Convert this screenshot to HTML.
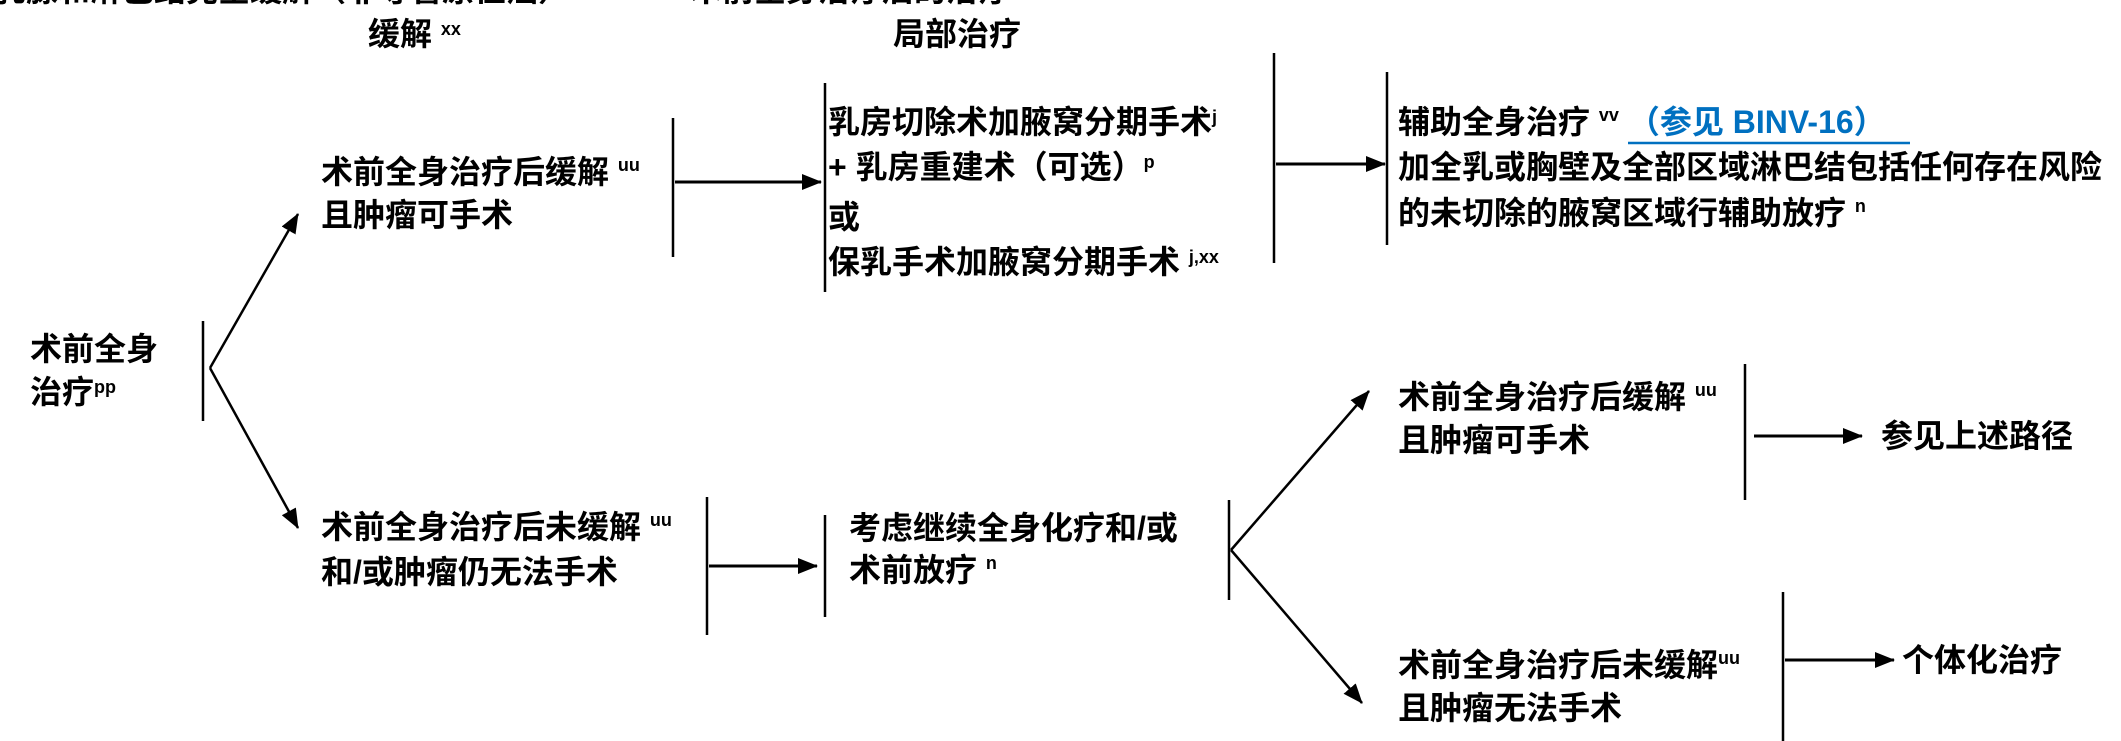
<!DOCTYPE html>
<html><head><meta charset="utf-8"><style>
html,body{margin:0;padding:0;background:#fff;}
svg{display:block;}
text{font-family:"Liberation Sans","Noto Sans CJK SC",sans-serif;font-weight:bold;font-size:32px;fill:#000;}
.s{font-size:18px;}
</style></head><body>
<svg width="2121" height="741" viewBox="0 0 2121 741" xmlns="http://www.w3.org/2000/svg">
<defs>
<marker id="a" markerWidth="20" markerHeight="16" refX="19" refY="8" orient="auto" markerUnits="userSpaceOnUse">
<path d="M0,0 L20,8 L0,16 Z" fill="#000"/></marker>
</defs>
<g stroke="#000" stroke-width="2.5" fill="none">
<line x1="203" y1="321" x2="203" y2="421"/>
<line x1="673" y1="118" x2="673" y2="257"/>
<line x1="825" y1="83" x2="825" y2="292"/>
<line x1="1274" y1="53" x2="1274" y2="263"/>
<line x1="1387" y1="72" x2="1387" y2="245"/>
<line x1="707" y1="497" x2="707" y2="635"/>
<line x1="825" y1="515" x2="825" y2="617"/>
<line x1="1229" y1="500" x2="1229" y2="600"/>
<line x1="1745" y1="364" x2="1745" y2="500"/>
<line x1="1783" y1="592" x2="1783" y2="741"/>
<line x1="210" y1="368" x2="298" y2="214" marker-end="url(#a)"/>
<line x1="210" y1="368" x2="298" y2="528" marker-end="url(#a)"/>
<line x1="675" y1="182" x2="821" y2="182" stroke-width="3" marker-end="url(#a)"/>
<line x1="1276" y1="164" x2="1385" y2="164" stroke-width="3" marker-end="url(#a)"/>
<line x1="709" y1="566" x2="817" y2="566" stroke-width="3" marker-end="url(#a)"/>
<line x1="1231" y1="550" x2="1369" y2="391" marker-end="url(#a)"/>
<line x1="1231" y1="550" x2="1362" y2="703" marker-end="url(#a)"/>
<line x1="1754" y1="436" x2="1862" y2="436" stroke-width="3" marker-end="url(#a)"/>
<line x1="1785" y1="660" x2="1894" y2="660" stroke-width="3" marker-end="url(#a)"/>
</g>
<text x="-6" y="1">乳腺和淋巴结完全缓解（非导管原位癌）</text>
<text x="690" y="1">术前全身治疗后的治疗</text>
<text x="368" y="45">缓解 <tspan class="s" dy="-10">xx</tspan></text>
<text x="893" y="45">局部治疗</text>

<text x="30" y="360">术前全身</text>
<text x="30" y="403">治疗<tspan class="s" dy="-10">pp</tspan></text>

<text x="321" y="183">术前全身治疗后缓解 <tspan class="s" dy="-12">uu</tspan></text>
<text x="321" y="226">且肿瘤可手术</text>

<text x="828" y="133">乳房切除术加腋窝分期手术<tspan class="s" dy="-10">j</tspan></text>
<text x="828" y="178">+ 乳房重建术（可选）<tspan class="s" dy="-10">p</tspan></text>
<text x="828" y="228">或</text>
<text x="828" y="273">保乳手术加腋窝分期手术 <tspan class="s" dy="-10">j,xx</tspan></text>

<text x="1398" y="133">辅助全身治疗 <tspan class="s" dy="-12">vv</tspan><tspan dy="12" style="fill:#0070c0"> （参见 BINV-16）</tspan></text>
<line x1="1628" y1="143" x2="1910" y2="143" stroke="#0070c0" stroke-width="2.5"/>
<text x="1398" y="178">加全乳或胸壁及全部区域淋巴结包括任何存在风险</text>
<text x="1398" y="224">的未切除的腋窝区域行辅助放疗 <tspan class="s" dy="-12">n</tspan></text>

<text x="321" y="538">术前全身治疗后未缓解 <tspan class="s" dy="-12">uu</tspan></text>
<text x="321" y="583">和/或肿瘤仍无法手术</text>

<text x="849" y="539">考虑继续全身化疗和/或</text>
<text x="849" y="581">术前放疗 <tspan class="s" dy="-12">n</tspan></text>

<text x="1398" y="408">术前全身治疗后缓解 <tspan class="s" dy="-12">uu</tspan></text>
<text x="1398" y="451">且肿瘤可手术</text>
<text x="1881" y="447">参见上述路径</text>

<text x="1398" y="676">术前全身治疗后未缓解<tspan class="s" dy="-12">uu</tspan></text>
<text x="1398" y="719">且肿瘤无法手术</text>
<text x="1902" y="671">个体化治疗</text>
</svg>
</body></html>
